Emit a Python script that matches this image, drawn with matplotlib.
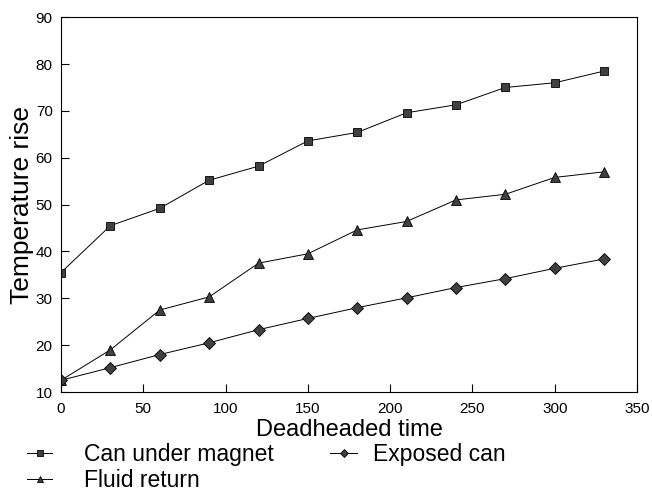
import matplotlib.pyplot as plt
import numpy as np

plt.rcParams['font.family'] = ['Liberation Sans', 'DejaVu Sans']

time = [0, 30, 60, 90, 120, 150, 180, 210, 240, 270, 300, 330]
magnet = [35.5, 45.5, 49.2, 55.2, 58.2, 63.6, 65.4, 69.6, 71.3, 75.0, 76.0, 78.5]
fluid = [12.5, 19.0, 27.5, 30.3, 37.5, 39.5, 44.6, 46.4, 51.0, 52.2, 55.8, 57.0]
exposed = [12.5, 15.2, 18.0, 20.5, 23.3, 25.7, 28.0, 30.1, 32.3, 34.2, 36.4, 38.4]

fig = plt.figure(figsize=[6.52, 4.91], dpi=100)
ax = fig.add_axes([0.0936, 0.2016, 0.8834, 0.7634])

mc = '#404040'
l1, = ax.plot(time, magnet, color='k', lw=0.7, marker='s', ms=6, mfc=mc, mec='k', mew=0.6)
l2, = ax.plot(time, fluid, color='k', lw=0.7, marker='^', ms=7, mfc=mc, mec='k', mew=0.6)
l3, = ax.plot(time, exposed, color='k', lw=0.7, marker='D', ms=6, mfc=mc, mec='k', mew=0.6)

ax.set_xlim(0, 350)
ax.set_ylim(10, 90)
ax.set_xticks(np.arange(0, 351, 50))
ax.set_yticks(np.arange(10, 91, 10))
ax.tick_params(direction='in', length=6, labelsize=11, width=0.8)
ax.tick_params(axis='x', pad=7)
ax.tick_params(axis='y', pad=6)
for s in ax.spines.values():
    s.set_linewidth(0.8)

ax.set_xlabel('Deadheaded time', fontsize=17, labelpad=2)
ax.set_ylabel('Temperature rise', fontsize=19, labelpad=1)

# legend split in two blocks like the original
leg1 = fig.legend([l1, l2], ['Can under magnet', 'Fluid return'], frameon=False,
                  loc='upper left', bbox_to_anchor=(0.0414, 0.097), fontsize=16.5,
                  borderpad=0, borderaxespad=0, handlelength=1.1, handletextpad=1.4,
                  labelspacing=0.12, markerscale=0.7)
leg2 = fig.legend([l3], ['Exposed can'], frameon=False,
                  loc='upper left', bbox_to_anchor=(0.506, 0.097), fontsize=16.5,
                  borderpad=0, borderaxespad=0, handlelength=1.2, handletextpad=0.7,
                  markerscale=0.7)

fig.savefig('out.png', dpi=100)
